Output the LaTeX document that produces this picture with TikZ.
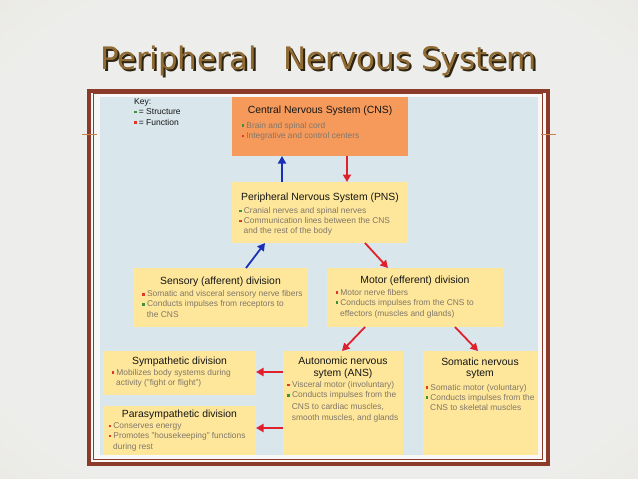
\documentclass[tikz,border=0pt]{standalone}
\usepackage{fontspec}
\setmainfont{Liberation Sans}
\newfontfamily\titlefont{DejaVu Sans}
\usepackage{graphicx}
\usetikzlibrary{arrows.meta,calc}
\definecolor{bgin}{HTML}{EDEDEB}
\definecolor{bgout}{HTML}{DAD7C1}
\definecolor{titlec}{HTML}{8F6A33}
\definecolor{titlesh}{HTML}{2E2410}
\definecolor{framec}{HTML}{8C3B2B}
\definecolor{contentc}{HTML}{D9E7ED}
\definecolor{cnsc}{HTML}{F69A5C}
\definecolor{boxc}{HTML}{FEE79B}
\definecolor{bodyc}{HTML}{80766A}
\definecolor{headc}{HTML}{151515}
\definecolor{bgreen}{HTML}{3C913C}
\definecolor{bred}{HTML}{E2362A}
\definecolor{arrblue}{HTML}{1B2FB5}
\definecolor{arrred}{HTML}{E0202A}
\definecolor{linec}{HTML}{C9834A}
\pgfdeclareradialshading{slidebg}{\pgfpoint{0bp}{0bp}}{color(0bp)=(bgin); color(30bp)=(bgin); color(70bp)=(bgout)}
\newcommand{\mybul}[1]{\textcolor{#1}{\rule[0.9pt]{2.7pt}{2.7pt}}\hspace{2pt}}
\begin{document}
\begin{tikzpicture}[x=1pt,y=-1pt,
  box/.style={draw=none, inner sep=0pt, outer sep=0pt},
  ttl/.style={font=\fontsize{10.4}{12}\selectfont, text=headc, anchor=base, inner sep=0pt},
  btxt/.style={font=\fontsize{8.4}{10}\selectfont, text=bodyc, anchor=base west, inner sep=0pt},
  keytxt/.style={font=\fontsize{8.5}{10}\selectfont, text=headc, anchor=base west, inner sep=0pt},
  titletxt/.style={font=\titlefont\fontsize{31}{36}\selectfont, anchor=base west, inner sep=0pt},
  blarrow/.style={draw=arrblue, line width=1.8pt, -{Triangle[length=7.5pt,width=8pt]}},
  rdarrow/.style={draw=arrred, line width=1.8pt, -{Triangle[length=7.5pt,width=8pt]}}
]
\useasboundingbox (0,0) rectangle (638,479);
\shade[shading=slidebg] (0,0) rectangle (638,479);
% title (with drop shadow)
\node[titletxt, text=titlesh] (titleshadow) at (101.8,71.3) {Peripheral\hspace{0.85em}Nervous System};
\node[titletxt, text=titlec] (title) at (100,69.5) {Peripheral\hspace{0.85em}Nervous System};
% frame
\draw[draw=framec, line width=4pt, fill=white!97!black] (88.7,91) rectangle (547.5,463.7);
\draw[draw=framec, line width=1.2pt] (93.2,93.8) rectangle (542.5,459.2);
\fill[contentc] (100,96.7) rectangle (538.3,455);
% boxes
\node[box, fill=cnsc, minimum width=176pt, minimum height=59.3pt] (cns) at (320,126.35) {};
\node[box, fill=boxc, minimum width=176pt, minimum height=61pt] (pns) at (320,212.5) {};
\node[box, fill=boxc, minimum width=175pt, minimum height=59pt] (sens) at (220.5,297.5) {};
\node[box, fill=boxc, minimum width=176pt, minimum height=59pt] (mot) at (415,297.5) {};
\node[box, fill=boxc, minimum width=153pt, minimum height=44pt] (symp) at (179.5,373) {};
\node[box, fill=boxc, minimum width=153pt, minimum height=49pt] (para) at (179.5,430.5) {};
\node[box, fill=boxc, minimum width=120pt, minimum height=104pt] (ans) at (343,403) {};
\node[box, fill=boxc, minimum width=114pt, minimum height=104pt] (som) at (480,403) {};
% key
\node[keytxt] (key0) at (134,104.3) {Key:};
\node[keytxt] (key1) at (134,114.3) {\mybul{bgreen}= Structure};
\node[keytxt] (key2) at (134,125) {\mybul{bred}= Function};
% CNS text
\node[ttl] (cnst) at (320,113.5) {Central Nervous System (CNS)};
\node[btxt] (cns1) at (241.5,128) {\mybul{bgreen}Brain and spinal cord};
\node[btxt] (cns2) at (241.5,138.3) {\mybul{bred}Integrative and control centers};
% PNS text
\node[ttl] (pnst) at (320,200) {Peripheral Nervous System (PNS)};
\node[btxt] (pns1) at (239,213.3) {\mybul{bgreen}Cranial nerves and spinal nerves};
\node[btxt] (pns2) at (239,223.3) {\mybul{bred}Communication lines between the CNS};
\node[btxt] (pns3) at (243.5,233.3) {and the rest of the body};
% sensory
\node[ttl] (senst) at (220.5,284.3) {Sensory (afferent) division};
\node[btxt] (sens1) at (142.2,296.7) {\mybul{bred}Somatic and visceral sensory nerve fibers};
\node[btxt] (sens2) at (142.2,306.7) {\mybul{bgreen}Conducts impulses from receptors to};
\node[btxt] (sens3) at (146.7,317.7) {the CNS};
% motor
\node[ttl] (mott) at (415,283.3) {Motor (efferent) division};
\node[btxt] (mot1) at (335.5,295) {\mybul{bred}Motor nerve fibers};
\node[btxt] (mot2) at (335.5,305) {\mybul{bgreen}Conducts impulses from the CNS to};
\node[btxt] (mot3) at (340,316) {effectors (muscles and glands)};
% sympathetic
\node[ttl] (sympt) at (179.5,364.3) {Sympathetic division};
\node[btxt] (symp1) at (111.5,375) {\mybul{bred}Mobilizes body systems during};
\node[btxt] (symp2) at (116,385) {activity ("fight or flight")};
% parasympathetic
\node[ttl] (parat) at (179.5,417.7) {Parasympathetic division};
\node[btxt] (para1) at (108.5,428.3) {\mybul{bred}Conserves energy};
\node[btxt] (para2) at (108.5,438.3) {\mybul{bred}Promotes "housekeeping" functions};
\node[btxt] (para3) at (113,449) {during rest};
% ANS
\node[ttl] (anst1) at (343,364.3) {Autonomic nervous};
\node[ttl] (anst2) at (343,376.7) {sytem (ANS)};
\node[btxt] (ans1) at (287.2,387.3) {\mybul{bred}Visceral motor (involuntary)};
\node[btxt] (ans2) at (287.2,397.7) {\mybul{bgreen}Conducts impulses from the};
\node[btxt] (ans3) at (291.7,409) {CNS to cardiac muscles,};
\node[btxt] (ans4) at (291.7,420) {smooth muscles, and glands};
% somatic
\node[ttl] (somt1) at (480,365) {Somatic nervous};
\node[ttl] (somt2) at (480,376.7) {sytem};
\node[btxt] (som1) at (425.5,390) {\mybul{bred}Somatic motor (voluntary)};
\node[btxt] (som2) at (425.5,400) {\mybul{bgreen}Conducts impulses from the};
\node[btxt] (som3) at (430,410.7) {CNS to skeletal muscles};
% arrows
\draw[blarrow] ($(pns.north west)+(50,0)$) -- ($(cns.south west)+(50,0)$);
\draw[rdarrow] ($(cns.south west)+(115,0)$) -- ($(pns.north west)+(115,0)$);
\draw[blarrow] ($(sens.north west)+(113,0)$) -- ($(pns.south west)+(33,0)$);
\draw[rdarrow] ($(pns.south west)+(133,0)$) -- ($(mot.north west)+(61,0)$);
\draw[rdarrow] ($(mot.south west)+(38,0)$) -- ($(ans.north west)+(59,0)$);
\draw[rdarrow] ($(mot.south west)+(128,0)$) -- ($(som.north west)+(55,0)$);
\draw[rdarrow] ($(ans.north west)+(0,21)$) -- ($(symp.north east)+(0,21)$);
\draw[rdarrow] ($(ans.north west)+(0,77)$) -- ($(para.north east)+(0,22)$);
% slide rule fragments
\draw[linec, line width=0.9pt] (82,134) -- (97,134);
\draw[linec, line width=0.9pt] (541,134) -- (556,134);
\end{tikzpicture}
\end{document}
